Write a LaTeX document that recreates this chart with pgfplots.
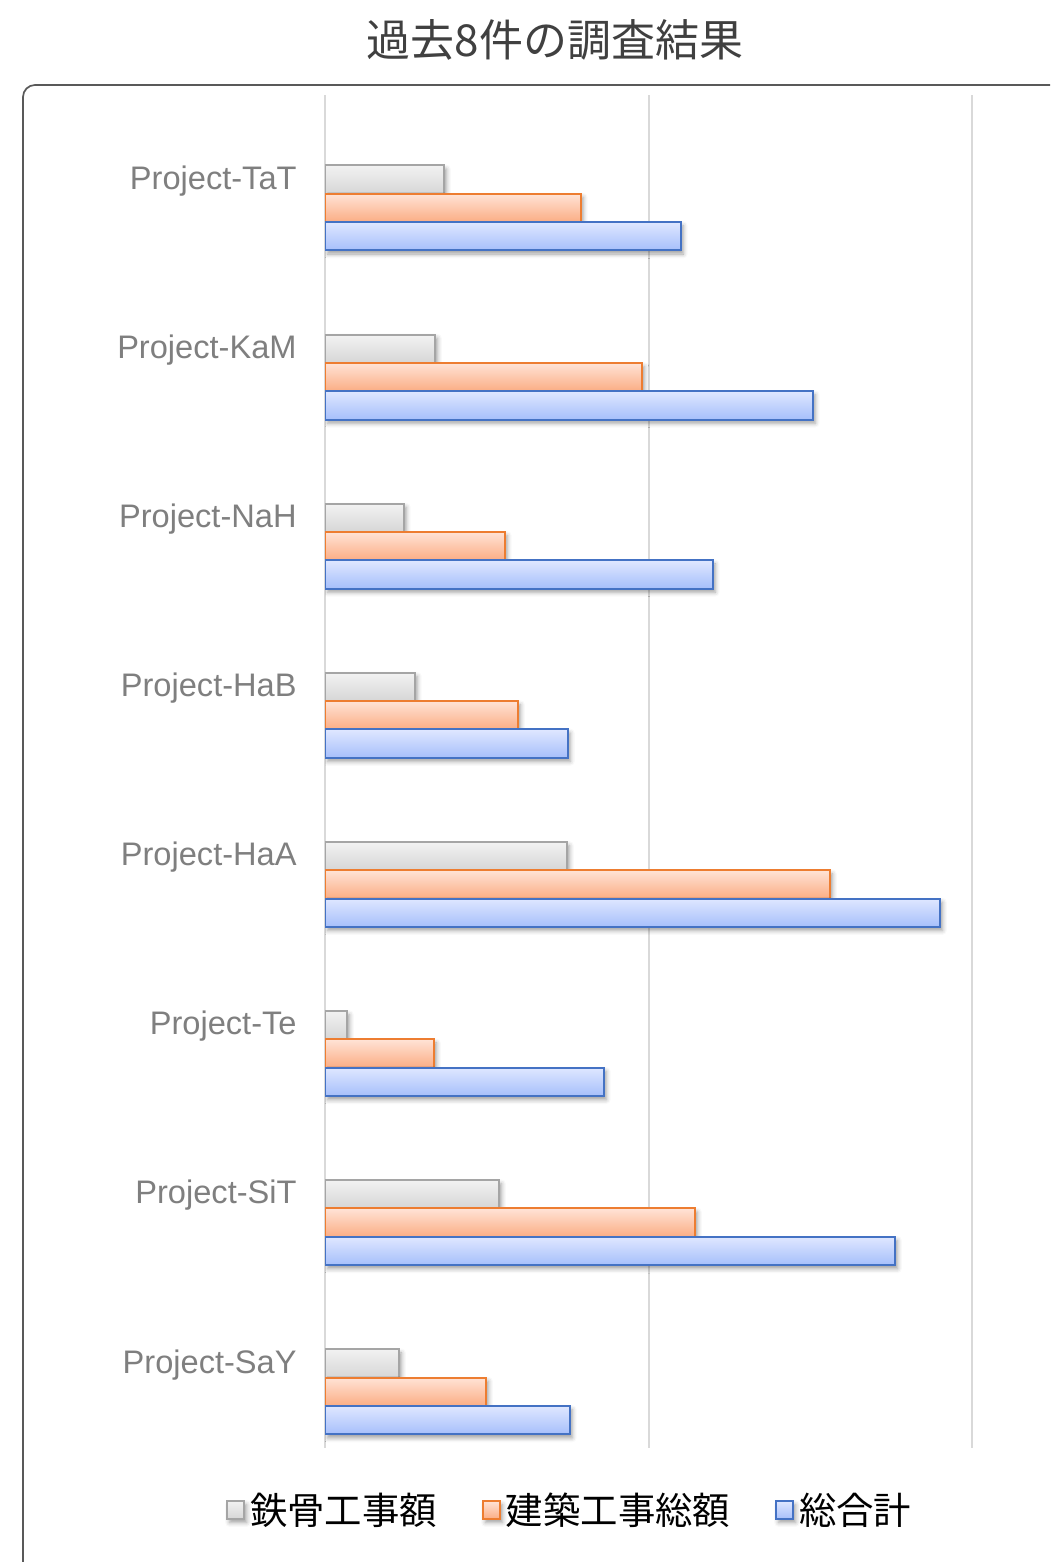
\documentclass[border=0pt]{standalone}
\usepackage{pgfplots}
\pgfplotsset{compat=1.18}
\usepackage{fontspec}
\setmainfont{Liberation Sans}
\newfontfamily\cjk{Noto Sans CJK JP}
\usetikzlibrary{shadows.blur}

\definecolor{gridgray}{HTML}{D9D9D9}
\definecolor{framegray}{HTML}{595959}
\definecolor{titlegray}{HTML}{404040}
\definecolor{labelgray}{HTML}{7F7F7F}
\definecolor{steelLine}{HTML}{A5A5A5}
\definecolor{steelTop}{HTML}{F2F2F2}
\definecolor{steelBot}{HTML}{D6D6D6}
\definecolor{buildLine}{HTML}{ED7D31}
\definecolor{buildTop}{HTML}{FFE3D6}
\definecolor{buildBot}{HTML}{FBAD84}
\definecolor{totalLine}{HTML}{4472C4}
\definecolor{totalTop}{HTML}{DFE7FF}
\definecolor{totalBot}{HTML}{A6BFFB}

\pgfplotsset{
  barbase/.style={xbar, bar shift=0pt, line width=1pt,
    blur shadow={shadow xshift=1.2pt, shadow yshift=-1.8pt, shadow blur radius=2.2pt, shadow opacity=38}},
  steel/.style={barbase, draw=steelLine, top color=steelTop, bottom color=steelBot,
    legend image code/.code={\draw[draw=steelLine, line width=0.9pt, top color=steelTop, bottom color=steelBot] (0pt,-4.5pt) rectangle (8.5pt,4.5pt);}},
  build/.style={barbase, draw=buildLine, top color=buildTop, bottom color=buildBot,
    legend image code/.code={\draw[draw=buildLine, line width=0.9pt, top color=buildTop, bottom color=buildBot] (0pt,-4.5pt) rectangle (8.5pt,4.5pt);}},
  total/.style={barbase, draw=totalLine, top color=totalTop, bottom color=totalBot,
    legend image code/.code={\draw[draw=totalLine, line width=0.9pt, top color=totalTop, bottom color=totalBot] (0pt,-4.5pt) rectangle (8.5pt,4.5pt);}},
}

\begin{document}
\begin{tikzpicture}
\path[use as bounding box] (0pt,0pt) rectangle (525pt,781pt);
\clip (0pt,0pt) rectangle (525pt,781pt);

% chart frame
\draw[framegray, line width=0.85pt, rounded corners=6pt] (11.5pt,738.5pt) rectangle (560pt,-30pt);

% title
\node[font=\cjk\fontsize{22}{26}\selectfont, text=titlegray] at (277.5pt,761pt) {過去8件の調査結果};

\begin{axis}[
  at={(162.5pt,57pt)}, anchor=south west,
  scale only axis, width=355.85pt, height=676.5pt,
  xmin=0, xmax=2.2, ymin=-0.5, ymax=7.5,
  y dir=reverse,
  axis line style={draw=none},
  major tick length=0pt,
  xtick={0,1,2}, xticklabels={,,},
  xmajorgrids, grid style={color=gridgray, line width=1pt},
  ytick={0,1,2,3,4,5,6,7},
  yticklabels={Project-TaT,Project-KaM,Project-NaH,Project-HaB,Project-HaA,Project-Te,Project-SiT,Project-SaY},
  yticklabel style={font=\fontsize{16.3}{19}\selectfont, text=labelgray, inner sep=0pt, xshift=-14pt, yshift=-0.6pt},
  bar width=0.1675,
  legend columns=-1,
  legend style={
    at={(0.344,-0.0458)}, anchor=center, draw=none, fill=none,
    font=\cjk\fontsize{18.7}{22}\selectfont,
    /tikz/every even column/.append style={column sep=21.5pt},
    /tikz/every odd column/.append style={column sep=1.5pt},
    nodes={inner sep=1pt},
  },
]
% one bar per project and series, steel / building / total stacked downwards
% Project-TaT
\addplot[steel] coordinates {(0.368,0)};        \addlegendentry{鉄骨工事額}
\addplot[build] coordinates {(0.791,0.1675)};   \addlegendentry{建築工事総額}
\addplot[total] coordinates {(1.100,0.335)};    \addlegendentry{総合計}
% Project-KaM
\addplot[steel, forget plot] coordinates {(0.340,1)};
\addplot[build, forget plot] coordinates {(0.980,1.1675)};
\addplot[total, forget plot] coordinates {(1.508,1.335)};
% Project-NaH
\addplot[steel, forget plot] coordinates {(0.244,2)};
\addplot[build, forget plot] coordinates {(0.556,2.1675)};
\addplot[total, forget plot] coordinates {(1.199,2.335)};
% Project-HaB
\addplot[steel, forget plot] coordinates {(0.278,3)};
\addplot[build, forget plot] coordinates {(0.597,3.1675)};
\addplot[total, forget plot] coordinates {(0.751,3.335)};
% Project-HaA
\addplot[steel, forget plot] coordinates {(0.748,4)};
\addplot[build, forget plot] coordinates {(1.561,4.1675)};
\addplot[total, forget plot] coordinates {(1.901,4.335)};
% Project-Te
\addplot[steel, forget plot] coordinates {(0.068,5)};
\addplot[build, forget plot] coordinates {(0.337,5.1675)};
\addplot[total, forget plot] coordinates {(0.862,5.335)};
% Project-SiT
\addplot[steel, forget plot] coordinates {(0.538,6)};
\addplot[build, forget plot] coordinates {(1.144,6.1675)};
\addplot[total, forget plot] coordinates {(1.762,6.335)};
% Project-SaY
\addplot[steel, forget plot] coordinates {(0.229,7)};
\addplot[build, forget plot] coordinates {(0.498,7.1675)};
\addplot[total, forget plot] coordinates {(0.757,7.335)};
\end{axis}
\end{tikzpicture}
\end{document}
